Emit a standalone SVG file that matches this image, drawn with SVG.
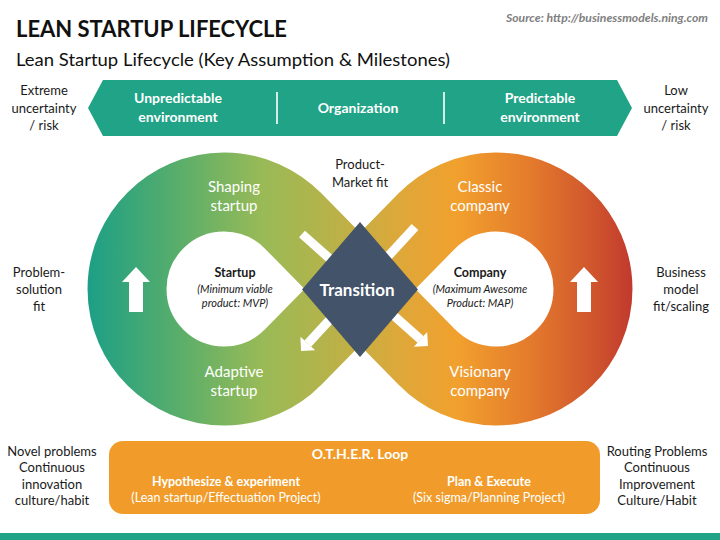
<svg xmlns="http://www.w3.org/2000/svg" width="720" height="540" viewBox="0 0 720 540">
<defs>
<linearGradient id="band" gradientUnits="userSpaceOnUse" x1="87" y1="0" x2="633" y2="0">
<stop offset="0" stop-color="#1c9f86"/>
<stop offset="0.17" stop-color="#5aae6a"/>
<stop offset="0.32" stop-color="#98ba57"/>
<stop offset="0.45" stop-color="#b8b249"/>
<stop offset="0.57" stop-color="#dda83a"/>
<stop offset="0.68" stop-color="#f1a02d"/>
<stop offset="0.81" stop-color="#e47b2c"/>
<stop offset="0.92" stop-color="#d1582d"/>
<stop offset="1" stop-color="#c1392e"/>
</linearGradient>
<marker id="head" markerUnits="userSpaceOnUse" markerWidth="24" markerHeight="24" viewBox="-2 -12 14 24" refX="0" refY="0" orient="auto">
<path d="M0,-10 L10,0 L0,10 Z" fill="#ffffff"/>
</marker>
<style>
text{font-family:Lato,"Liberation Sans",sans-serif;}
.lbl{font-size:13px;fill:#1a1a1a;text-anchor:middle;}
.wt{font-size:15px;fill:#ffffff;text-anchor:middle;}
.wb{font-size:14px;fill:#ffffff;text-anchor:middle;font-weight:bold;}
.hd{font-size:12.5px;fill:#1a1a1a;text-anchor:middle;font-weight:bold;}
.it{font-size:11px;fill:#1a1a1a;text-anchor:middle;font-style:italic;}
.ob{font-size:12.5px;fill:#ffffff;text-anchor:middle;font-weight:bold;}
.ot{font-size:14px;fill:#ffffff;text-anchor:middle;font-weight:bold;}
.or{font-size:12.5px;fill:#ffffff;text-anchor:middle;}
.arw{stroke:#ffffff;stroke-width:9;fill:none;}
</style>
</defs>
<rect width="720" height="540" fill="#ffffff"/>

<g id="header">
<text x="16" y="37" font-size="23" font-weight="bold" fill="#111111" textLength="271" lengthAdjust="spacingAndGlyphs">LEAN STARTUP LIFECYCLE</text>
<text x="16" y="66" font-size="18" fill="#111111" textLength="434" lengthAdjust="spacingAndGlyphs">Lean Startup Lifecycle (Key Assumption &amp; Milestones)</text>
<text x="708" y="22" font-size="11.5" font-weight="bold" font-style="italic" fill="#808080" text-anchor="end" textLength="202" lengthAdjust="spacingAndGlyphs">Source: http://businessmodels.ning.com</text>
</g>

<g id="banner">
<polygon points="88,108 103,80 617,80 632,108 617,136 103,136" fill="#20a386"/>
<line x1="277" y1="92" x2="277" y2="124" stroke="#d4ece6" stroke-width="2"/>
<line x1="444" y1="92" x2="444" y2="124" stroke="#d4ece6" stroke-width="2"/>
<text class="wb" x="178" y="103">Unpredictable</text>
<text class="wb" x="178" y="122">environment</text>
<text class="wb" x="358" y="113">Organization</text>
<text class="wb" x="540" y="103">Predictable</text>
<text class="wb" x="540" y="122">environment</text>
</g>

<g id="side-labels">
<text class="lbl" x="44" y="95">Extreme</text>
<text class="lbl" x="44" y="113">uncertainty</text>
<text class="lbl" x="44" y="130">/ risk</text>
<text class="lbl" x="676" y="95">Low</text>
<text class="lbl" x="676" y="113">uncertainty</text>
<text class="lbl" x="676" y="130">/ risk</text>
<text class="lbl" x="39" y="277">Problem-</text>
<text class="lbl" x="39" y="294">solution</text>
<text class="lbl" x="39" y="311">fit</text>
<text class="lbl" x="681" y="277">Business</text>
<text class="lbl" x="681" y="294">model</text>
<text class="lbl" x="681" y="311">fit/scaling</text>
<text class="lbl" x="360" y="169">Product-</text>
<text class="lbl" x="360" y="187">Market fit</text>
</g>

<g id="infinity-loop">
<path d="M293.2,357 L426.8,221 A97,97 0 1 1 426.8,357 L293.2,221 A97,97 0 1 0 293.2,357 Z" fill="none" stroke="url(#band)" stroke-width="79"/>
</g>

<g id="connectors">
<line class="arw" x1="302" y1="234" x2="420.5" y2="339.4" marker-end="url(#head)"/>
<line class="arw" x1="415" y1="227" x2="307.8" y2="343.6" marker-end="url(#head)"/>
<polygon points="136,267 150,282 143,282 143,312 129,312 129,282 122,282" fill="#ffffff"/>
<polygon points="584,267 598,282 591,282 591,312 577,312 577,282 570,282" fill="#ffffff"/>
</g>

<g id="stage-labels">
<text class="wt" x="234" y="192">Shaping</text>
<text class="wt" x="234" y="211">startup</text>
<text class="wt" x="234" y="377">Adaptive</text>
<text class="wt" x="234" y="396">startup</text>
<text class="wt" x="480" y="192">Classic</text>
<text class="wt" x="480" y="211">company</text>
<text class="wt" x="480" y="377">Visionary</text>
<text class="wt" x="480" y="396">company</text>
</g>

<g id="startup">
<text class="hd" x="235" y="277">Startup</text>
<text class="it" x="235" y="293">(Minimum viable</text>
<text class="it" x="235" y="307">product: MVP)</text>
</g>

<g id="company">
<text class="hd" x="480" y="277">Company</text>
<text class="it" x="480" y="293">(Maximum Awesome</text>
<text class="it" x="480" y="307">Product: MAP)</text>
</g>

<g id="transition">
<polygon points="360,222 418,289.5 360,357 302,289.5" fill="#435369"/>
<text x="357" y="296" font-size="17" font-weight="bold" fill="#ffffff" text-anchor="middle">Transition</text>
</g>

<g id="other-loop">
<rect x="109" y="441" width="491" height="73" rx="14" fill="#f19c2a"/>
<text class="ot" x="360" y="459">O.T.H.E.R. Loop</text>
<text class="ob" x="226" y="486">Hypothesize &amp; experiment</text>
<text class="or" x="226" y="502">(Lean startup/Effectuation Project)</text>
<text class="ob" x="489" y="486">Plan &amp; Execute</text>
<text class="or" x="489" y="502">(Six sigma/Planning Project)</text>
</g>

<g id="bottom-labels">
<text class="lbl" x="52" y="456">Novel problems</text>
<text class="lbl" x="52" y="472">Continuous</text>
<text class="lbl" x="52" y="489">innovation</text>
<text class="lbl" x="52" y="505">culture/habit</text>
<text class="lbl" x="657" y="456">Routing Problems</text>
<text class="lbl" x="657" y="472">Continuous</text>
<text class="lbl" x="657" y="489">Improvement</text>
<text class="lbl" x="657" y="505">Culture/Habit</text>
</g>

<rect id="footer-bar" x="0" y="533" width="720" height="7" fill="#20a386"/>
</svg>
